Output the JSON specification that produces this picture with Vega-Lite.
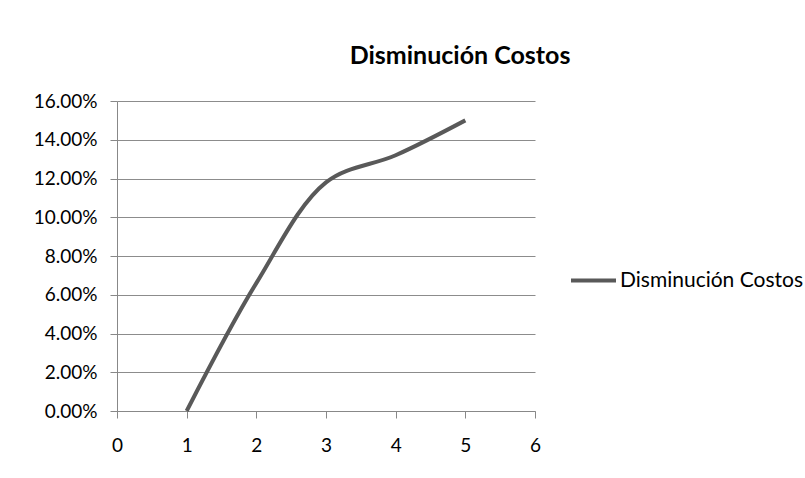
{
  "$schema": "https://vega.github.io/schema/vega-lite/v6.json",
  "autosize": "none",
  "width": 418,
  "height": 310,
  "padding": {"left": 117, "top": 101, "right": 270, "bottom": 67},
  "background": "white",
  "title": {
    "text": "Disminución Costos",
    "font": "Lato",
    "fontSize": 25,
    "fontWeight": "bold",
    "color": "#000000",
    "anchor": "middle",
    "frame": "group",
    "dx": 134,
    "offset": 23
  },
  "data": {
    "values": [
      {"x": 1, "y": 0.0, "serie": "Disminución Costos"},
      {"x": 2, "y": 0.066, "serie": "Disminución Costos"},
      {"x": 3, "y": 0.118, "serie": "Disminución Costos"},
      {"x": 4, "y": 0.132, "serie": "Disminución Costos"},
      {"x": 5, "y": 0.150, "serie": "Disminución Costos"}
    ]
  },
  "mark": {"type": "line", "interpolate": "catmull-rom", "strokeWidth": 4, "strokeCap": "butt"},
  "encoding": {
    "x": {
      "field": "x",
      "type": "quantitative",
      "scale": {"domain": [0, 6], "nice": false, "zero": false},
      "axis": {
        "title": null,
        "values": [0, 1, 2, 3, 4, 5, 6],
        "grid": false,
        "tickSize": 7,
        "tickColor": "#888888",
        "domainColor": "#888888",
        "labelFont": "Lato",
        "labelFontSize": 19,
        "labelColor": "#000000",
        "labelPadding": 18,
        "labelFlush": false
      }
    },
    "y": {
      "field": "y",
      "type": "quantitative",
      "scale": {"domain": [0, 0.16], "nice": false},
      "axis": {
        "title": null,
        "values": [0, 0.02, 0.04, 0.06, 0.08, 0.1, 0.12, 0.14, 0.16],
        "format": ".2%",
        "grid": true,
        "gridColor": "#8c8c8c",
        "gridWidth": 1,
        "tickSize": 7,
        "tickColor": "#888888",
        "domainColor": "#888888",
        "labelFont": "Lato",
        "labelFontSize": 19,
        "labelColor": "#000000",
        "labelPadding": 13
      }
    },
    "color": {
      "field": "serie",
      "type": "nominal",
      "scale": {"range": ["#595959"]},
      "legend": {
        "title": null,
        "orient": "none",
        "legendX": 452,
        "legendY": 155,
        "symbolType": "stroke",
        "symbolSize": 2025,
        "symbolStrokeWidth": 4,
        "labelFont": "Lato",
        "labelFontSize": 21,
        "labelColor": "#000000",
        "labelOffset": 2,
        "labelLimit": 300
      }
    }
  },
  "config": {"view": {"stroke": null}}
}
